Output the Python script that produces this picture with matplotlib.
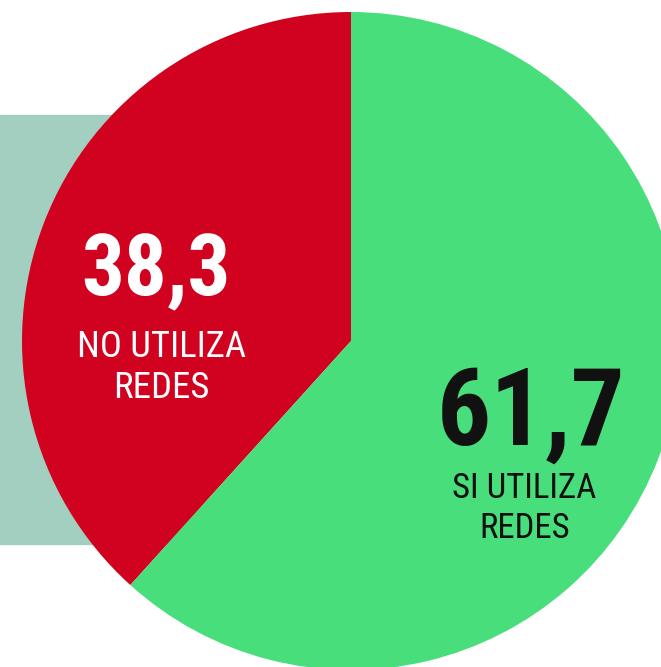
import matplotlib
matplotlib.use("Agg")
import matplotlib.pyplot as plt
from matplotlib.patches import Rectangle

labels = ["NO UTILIZA\nREDES", "SI UTILIZA\nREDES"]
values = [38.3, 61.7]
value_labels = ["38,3", "61,7"]
colors = ["#d0021f", "#48de7c"]
text_colors = ["white", "#111111"]

W, H = 661, 667
fig = plt.figure(figsize=(W / 100, H / 100), dpi=100)
ax = fig.add_axes([0, 0, 1, 1])

ax.add_patch(Rectangle((0, H - 544), 200, 544 - 115, color="#a3cfc1", zorder=0))

ax.pie(values, colors=colors, startangle=90, counterclock=True,
       center=(351, H - 341), radius=329, frame=True,
       wedgeprops=dict(linewidth=0))
ax.set_xlim(0, W)
ax.set_ylim(0, H)
ax.set_aspect("equal")
ax.axis("off")

font = "Roboto Condensed"
# red labels
ax.text(156, H - 295, value_labels[0], color=text_colors[0], fontsize=61,
        fontweight="bold", family=font, ha="center", va="baseline")
lab0 = labels[0].split("\n")
ax.text(161.5, H - 357, lab0[0], color=text_colors[0], fontsize=26.5,
        family=font, ha="center", va="baseline")
ax.text(161, H - 398, lab0[1], color=text_colors[0], fontsize=26.5,
        family=font, ha="center", va="baseline")
# green labels
ax.text(531.5, H - 445, value_labels[1], color=text_colors[1], fontsize=77,
        fontweight="bold", family=font, ha="center", va="baseline")
lab1 = labels[1].split("\n")
ax.text(524, H - 498, lab1[0], color=text_colors[1], fontsize=25,
        family=font, ha="center", va="baseline")
ax.text(525, H - 538, lab1[1], color=text_colors[1], fontsize=25,
        family=font, ha="center", va="baseline")

fig.savefig("out.png", dpi=100)
